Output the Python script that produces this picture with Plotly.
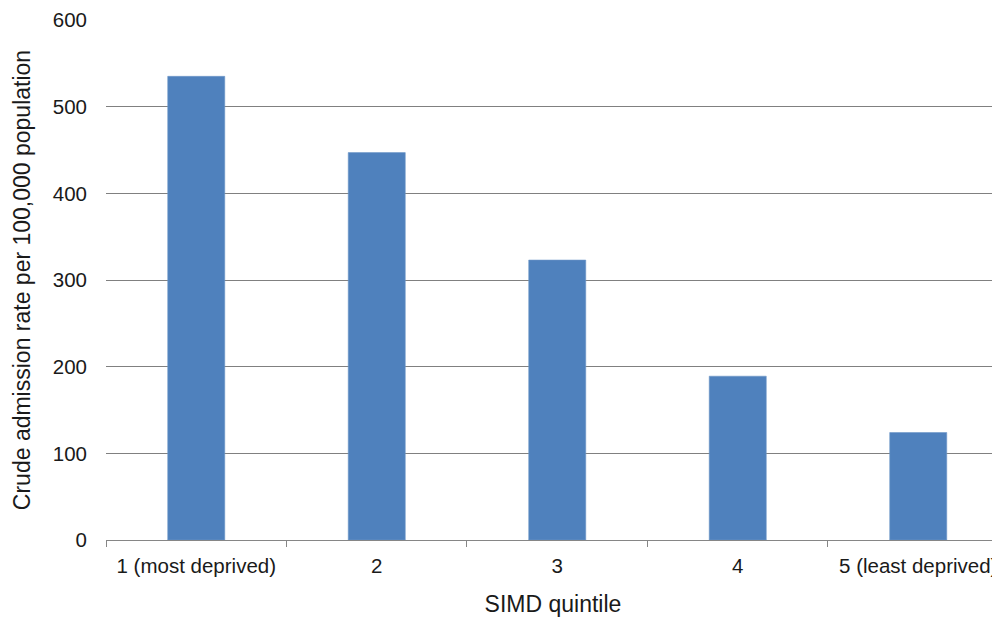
import plotly.graph_objects as go

categories = ["1 (most deprived)", "2", "3", "4", "5 (least deprived)"]
rates = [535, 447, 323, 189, 124]
y_ticks = [0, 100, 200, 300, 400, 500, 600]

fig = go.Figure()
fig.add_trace(go.Bar(
    x=categories, y=rates,
    width=0.316,
    marker=dict(color="#4F81BD", line=dict(color="#6f97c8", width=0.6)),
))

tick_font = dict(family="Liberation Sans, Arial, sans-serif", size=20.5, color="#1a1a1a")
title_font = dict(family="Liberation Sans, Arial, sans-serif", size=23, color="#1a1a1a")

# page body has an 8px margin, so the figure is offset by 8px
fig.update_layout(
    width=992, height=613,
    margin=dict(l=98, r=0, t=12, b=81),
    plot_bgcolor="white", paper_bgcolor="white",
    showlegend=False,
    font=tick_font,
    xaxis=dict(
        type="category",
        range=[-0.5, 4.453],
        tickson="boundaries",
        ticks="outside", ticklen=6, tickcolor="#868686", tickwidth=1.3,
        showline=True, linecolor="#868686", linewidth=1.3,
        showgrid=False,
        ticklabelstandoff=7,
        title=dict(text="SIMD quintile", font=title_font, standoff=20),
        tickfont=tick_font,
    ),
    yaxis=dict(
        range=[0, 600],
        tickvals=y_ticks,
        showgrid=True, gridcolor="#808080", gridwidth=1.3,
        zeroline=False, showline=False,
        ticks="", ticklabelstandoff=18,
        title=dict(text="Crude admission rate per 100,000 population", font=title_font, standoff=15),
        tickfont=tick_font,
    ),
)

fig.write_html("out.html")
